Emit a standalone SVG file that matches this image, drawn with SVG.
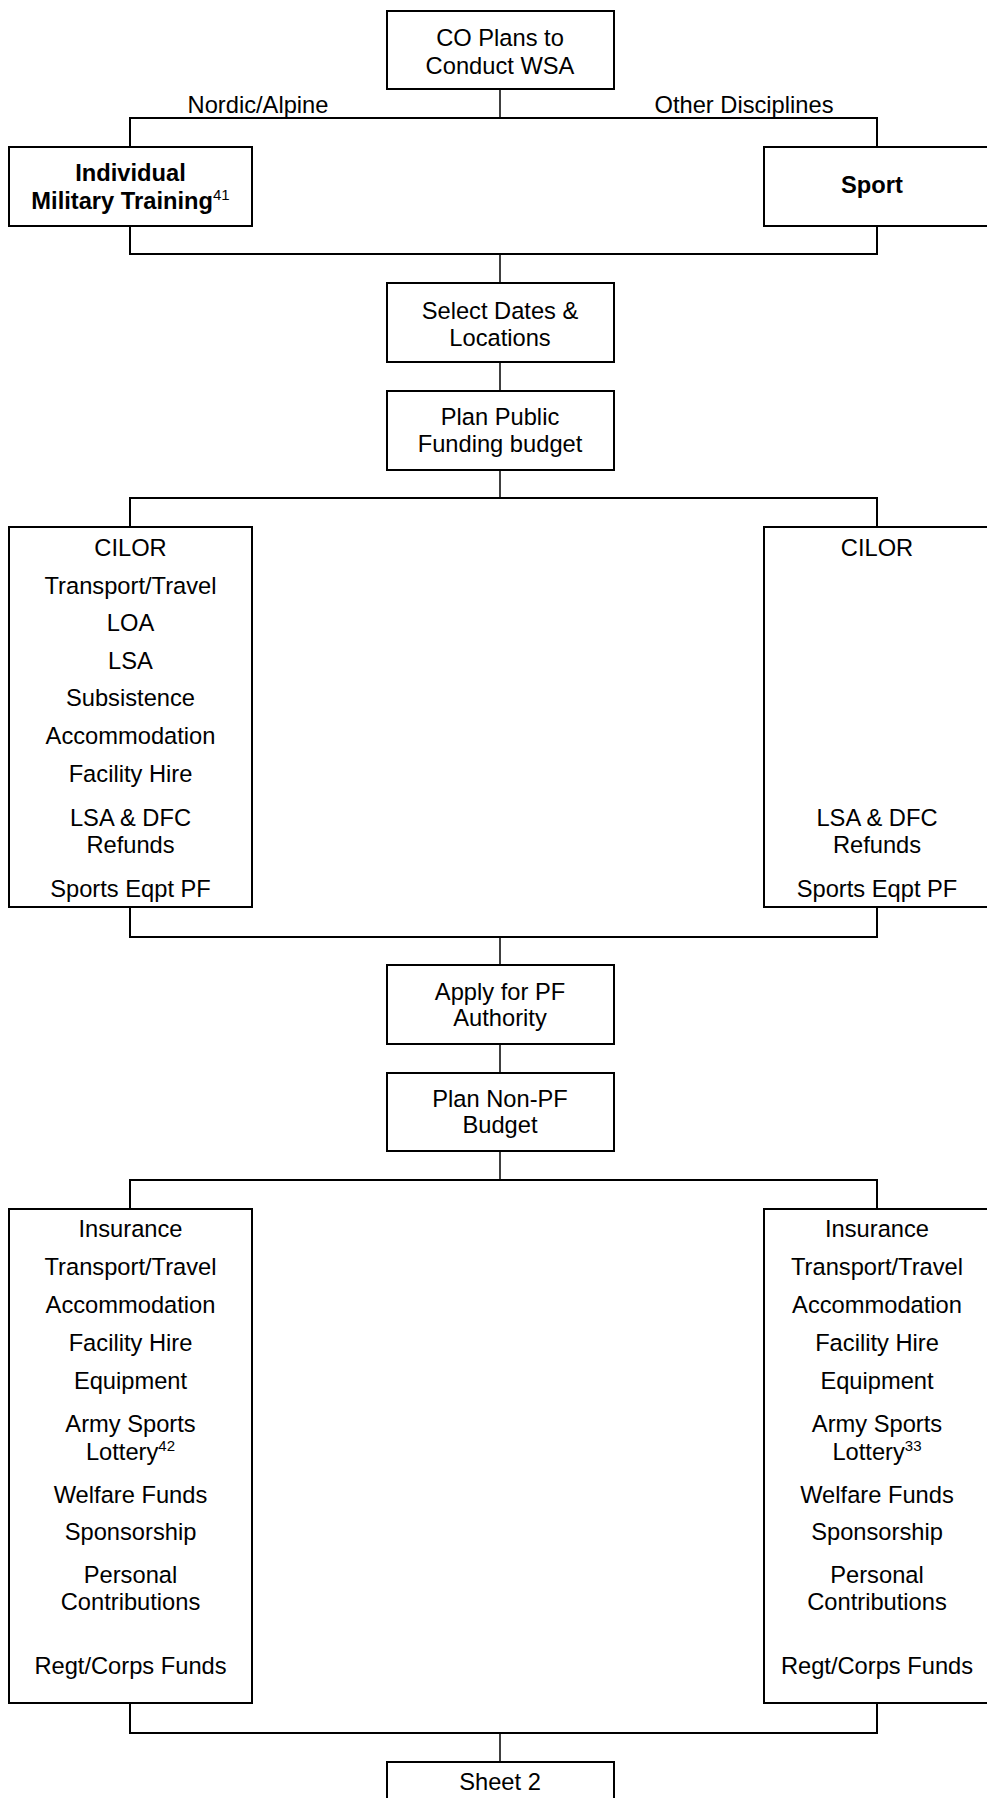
<svg xmlns="http://www.w3.org/2000/svg" width="987" height="1798" viewBox="0 0 987 1798">
<style>
.box{fill:#fff;stroke:#000;stroke-width:2}
.h{stroke:#000;stroke-width:2;fill:none}
.v{stroke:#000;stroke-width:1.5;fill:none}
text{font-family:"Liberation Sans",Arial,sans-serif;font-size:23.7px;fill:#000;text-anchor:middle}
.b{font-weight:bold}
.sup{font-size:15px}
</style>
<rect width="987" height="1798" fill="#fff"/>
<g id="connectors">
<path class="v" d="M500 89V118"/>
<path class="h" d="M130 147V118H877V147"/>
<path class="h" d="M130 226V254H877V226"/>
<path class="v" d="M500 254V283"/>
<path class="v" d="M500 362V391"/>
<path class="v" d="M500 470V498"/>
<path class="h" d="M130 527V498H877V527"/>
<path class="h" d="M130 907V937H877V907"/>
<path class="v" d="M500 937V965"/>
<path class="v" d="M500 1044V1073"/>
<path class="v" d="M500 1151V1180"/>
<path class="h" d="M130 1209V1180H877V1209"/>
<path class="h" d="M130 1703V1733H877V1703"/>
<path class="v" d="M500 1733V1762"/>
<text x="258" y="112.5">Nordic/Alpine</text>
<text x="744" y="112.5">Other Disciplines</text>
</g>
<g id="n-co">
<rect class="box" x="387" y="11" width="227" height="78"/>
<text x="500" y="46">CO Plans to</text>
<text x="500" y="74">Conduct WSA</text>
</g>
<g id="n-imt">
<rect class="box" x="9" y="147" width="243" height="79"/>
<text class="b" x="130.5" y="181">Individual</text>
<text class="b" x="130.5" y="208.5">Military Training<tspan class="sup" font-weight="normal" dy="-9">41</tspan></text>
</g>
<g id="n-sport">
<rect class="box" x="764" y="147" width="240" height="79"/>
<text class="b" x="872" y="193">Sport</text>
</g>
<g id="n-select">
<rect class="box" x="387" y="283" width="227" height="79"/>
<text x="500" y="318.5">Select Dates &amp;</text>
<text x="500" y="345.5">Locations</text>
</g>
<g id="n-planpublic">
<rect class="box" x="387" y="391" width="227" height="79"/>
<text x="500" y="425">Plan Public</text>
<text x="500" y="451.5">Funding budget</text>
</g>
<g id="n-pf-left">
<rect class="box" x="9" y="527" width="243" height="380"/>
<text x="130.5" y="556">CILOR</text>
<text x="130.5" y="593.5">Transport/Travel</text>
<text x="130.5" y="631">LOA</text>
<text x="130.5" y="668.5">LSA</text>
<text x="130.5" y="706">Subsistence</text>
<text x="130.5" y="744">Accommodation</text>
<text x="130.5" y="782">Facility Hire</text>
<text x="130.5" y="826">LSA &amp; DFC</text>
<text x="130.5" y="853">Refunds</text>
<text x="130.5" y="897">Sports Eqpt PF</text>
</g>
<g id="n-pf-right">
<rect class="box" x="764" y="527" width="240" height="380"/>
<text x="877" y="556">CILOR</text>
<text x="877" y="826">LSA &amp; DFC</text>
<text x="877" y="853">Refunds</text>
<text x="877" y="897">Sports Eqpt PF</text>
</g>
<g id="n-apply">
<rect class="box" x="387" y="965" width="227" height="79"/>
<text x="500" y="999.5">Apply for PF</text>
<text x="500" y="1026">Authority</text>
</g>
<g id="n-plannonpf">
<rect class="box" x="387" y="1073" width="227" height="78"/>
<text x="500" y="1107">Plan Non-PF</text>
<text x="500" y="1133">Budget</text>
</g>
<g id="n-npf-left">
<rect class="box" x="9" y="1209" width="243" height="494"/>
<text x="130.5" y="1237">Insurance</text>
<text x="130.5" y="1275">Transport/Travel</text>
<text x="130.5" y="1313">Accommodation</text>
<text x="130.5" y="1351">Facility Hire</text>
<text x="130.5" y="1388.5">Equipment</text>
<text x="130.5" y="1432">Army Sports</text>
<text x="130.5" y="1459.5">Lottery<tspan class="sup" dy="-9">42</tspan></text>
<text x="130.5" y="1503">Welfare Funds</text>
<text x="130.5" y="1540">Sponsorship</text>
<text x="130.5" y="1583">Personal</text>
<text x="130.5" y="1610">Contributions</text>
<text x="130.5" y="1673.5">Regt/Corps Funds</text>
</g>
<g id="n-npf-right">
<rect class="box" x="764" y="1209" width="240" height="494"/>
<text x="877" y="1237">Insurance</text>
<text x="877" y="1275">Transport/Travel</text>
<text x="877" y="1313">Accommodation</text>
<text x="877" y="1351">Facility Hire</text>
<text x="877" y="1388.5">Equipment</text>
<text x="877" y="1432">Army Sports</text>
<text x="877" y="1459.5">Lottery<tspan class="sup" dy="-9">33</tspan></text>
<text x="877" y="1503">Welfare Funds</text>
<text x="877" y="1540">Sponsorship</text>
<text x="877" y="1583">Personal</text>
<text x="877" y="1610">Contributions</text>
<text x="877" y="1673.5">Regt/Corps Funds</text>
</g>
<g id="n-sheet2">
<rect class="box" x="387" y="1762" width="227" height="80"/>
<text x="500" y="1790">Sheet 2</text>
</g>
</svg>
